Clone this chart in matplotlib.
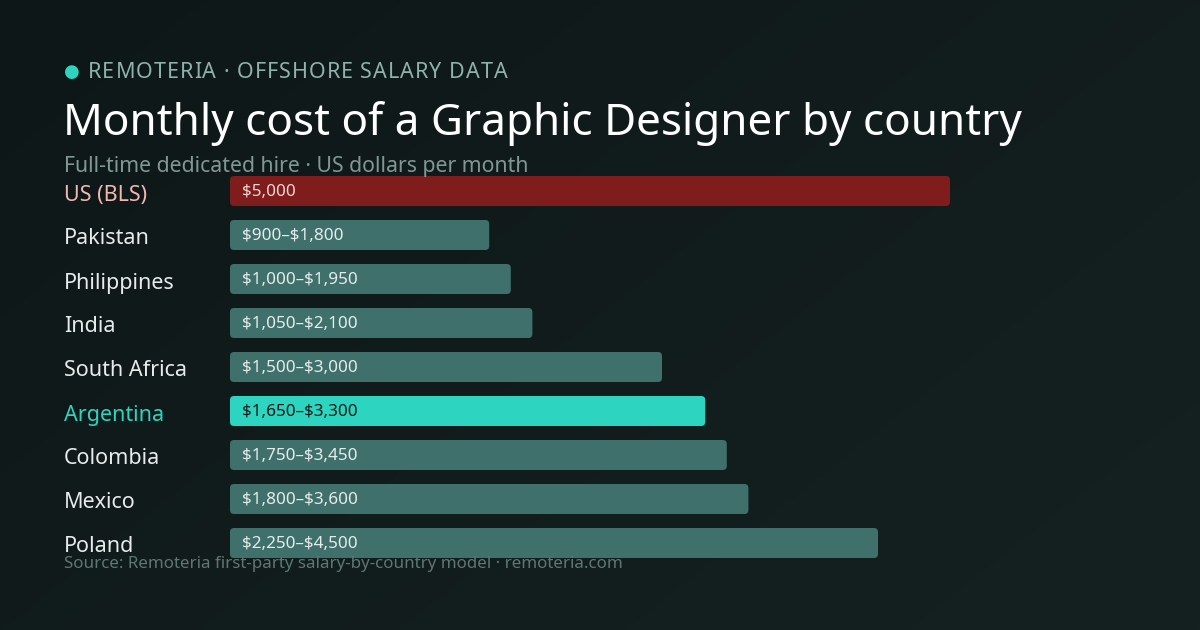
import numpy as np
import matplotlib.pyplot as plt
from matplotlib.patches import FancyBboxPatch

plt.rcParams['font.family'] = ['Noto Sans', 'DejaVu Sans']
plt.rcParams['text.parse_math'] = False

countries = ['US (BLS)', 'Pakistan', 'Philippines', 'India', 'South Africa',
             'Argentina', 'Colombia', 'Mexico', 'Poland']
low = [None, 900, 1000, 1050, 1500, 1650, 1750, 1800, 2250]
high = [5000, 1800, 1950, 2100, 3000, 3300, 3450, 3600, 4500]

W, H = 1200, 630
fig = plt.figure(figsize=(12, 6.3), dpi=100)
bg = fig.add_axes([0, 0, 1, 1])
grad = np.linspace(0, 1, 256)
gx, gy = np.meshgrid(grad, grad)
bg.imshow(0.6 * gx + 0.4 * (1 - gy), cmap=plt.matplotlib.colors.LinearSegmentedColormap.from_list('g', ['#0e1717', '#152121']),
          extent=[0, 1, 0, 1], aspect='auto', origin='lower')
bg.set_xlim(0, 1); bg.set_ylim(0, 1); bg.axis('off')

def fy(py):
    return 1 - py / H

renderer = fig.canvas.get_renderer()

def spaced_text(x_px, y_px, s, spacing_px, **kw):
    # draw text char by char with extra letter spacing
    for ch in s:
        t = fig.text(x_px / W, fy(y_px), ch, va='center', **kw)
        w = t.get_window_extent(renderer).width if ch != ' ' else kw['fontsize'] * 0.26 / 0.72
        x_px += w + spacing_px

fig.text(64 / W, fy(72), '●', color='#2dd4bf', fontsize=13, va='center')
spaced_text(88, 73, 'REMOTERIA · OFFSHORE SALARY DATA', 1.0, color='#8fb3ac', fontsize=15.5)
fig.text(63 / W, fy(123), 'Monthly cost of a Graphic Designer by country', color='white', fontsize=31.7, va='center')
fig.text(64 / W, fy(167), 'Full-time dedicated hire · US dollars per month', color='#7f9893', fontsize=15.3, va='center')
fig.text(64 / W, fy(564), 'Source: Remoteria first-party salary-by-country model · remoteria.com', color='#5f7773', fontsize=12.2, va='center')

top, bot = 169, 565
ax = fig.add_axes([230 / W, fy(bot), 720 / W, (bot - top) / H])
ax.set_xlim(0, 5000)
ax.set_ylim(len(countries) - 0.5, -0.5)
ax.axis('off')

row_px = (bot - top) / len(countries)
xunit_per_px = 5000 / 720
for i, c in enumerate(countries):
    if i == 0:
        col, lc, tc = '#7f1d1d', '#f4b6b0', '#f3d6d3'
        txt = f'${high[i]:,}'
    elif c == 'Argentina':
        col, lc, tc = '#2dd4bf', '#2dd4bf', '#0e1717'
        txt = f'${low[i]:,}–${high[i]:,}'
    else:
        col, lc, tc = '#3f706b', '#e6ecea', '#e6ecea'
        txt = f'${low[i]:,}–${high[i]:,}'
    h = 30 / row_px
    box = FancyBboxPatch((0, i - h / 2), high[i], h,
                         boxstyle=f'round,pad=0,rounding_size={4 * xunit_per_px}',
                         mutation_aspect=(1 / row_px) / xunit_per_px,
                         fc=col, ec='none')
    ax.add_patch(box)
    ax.text(12 * xunit_per_px, i + 0.03, txt, color=tc, fontsize=12.3, va='center')
    fig.text(64 / W, fy(top + row_px * (i + 0.5) + 4), c, color=lc, fontsize=15.5, va='center')

fig.savefig('out.png', dpi=100)
